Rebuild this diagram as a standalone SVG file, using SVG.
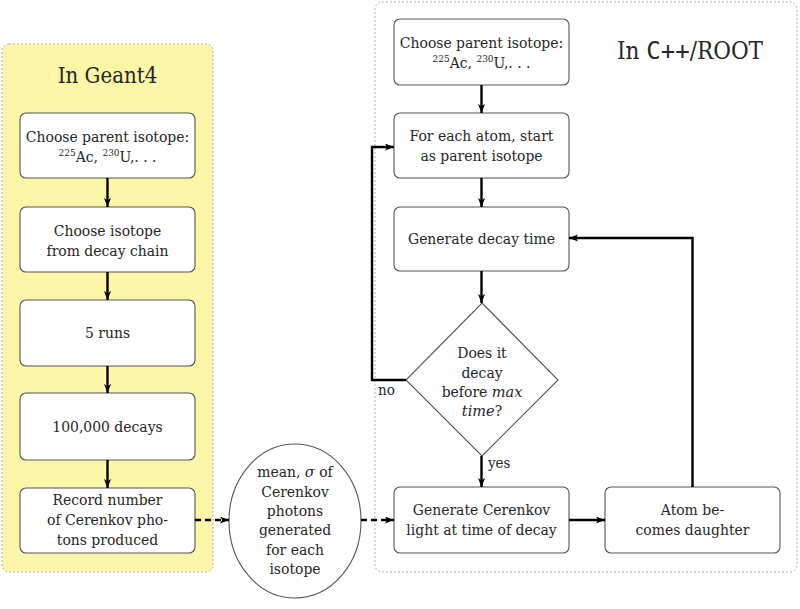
<svg xmlns="http://www.w3.org/2000/svg" width="800" height="609" viewBox="0 0 800 609">
<defs>
<marker id="ah" markerUnits="userSpaceOnUse" markerWidth="11" markerHeight="9" refX="9" refY="3.5" orient="auto">
<path d="M0,0 L9,3.5 L0,7 L2.2,3.5 Z" fill="#000"/>
</marker>
<style>
text{font-family:"DejaVu Serif Condensed","DejaVu Serif",serif;font-stretch:condensed;font-size:15.5px;fill:#262626;text-anchor:middle}
.title{font-size:22px}
.title2{font-size:24px}
.mono{font-family:"DejaVu Sans Mono",monospace;font-stretch:normal}
.sup{font-size:10px}
.it{font-family:"DejaVu Serif",serif;font-stretch:normal;font-style:italic;font-size:14.5px}
.box{fill:#fff;stroke:#555;stroke-width:1.1}
.panel-l{fill:#fdf5a7;stroke:#999;stroke-width:1;stroke-dasharray:1.5,2.5}
.panel-r{fill:#fff;stroke:#999;stroke-width:1;stroke-dasharray:1.5,2.5}
.conn{fill:none;stroke:#000;stroke-width:2.4;marker-end:url(#ah)}
.dash{stroke-dasharray:6,4}
.lbl{text-anchor:start;font-size:15px}
</style>
</defs>
<g id="panel-geant4">
<rect class="panel-l" x="2" y="44" width="211" height="528" rx="7"/>
<text class="title" x="107.5" y="83">In Geant4</text>
</g>
<g id="panel-root">
<rect class="panel-r" x="375" y="2" width="422" height="570" rx="7"/>
<text class="title2" x="690" y="59">In <tspan class="mono">C++</tspan>/ROOT</text>
</g>

<g id="g4-parent">
<rect class="box" x="20" y="113" width="175" height="65" rx="6"/>
<text x="107.5" y="142">Choose parent isotope:</text>
<text x="107.5" y="162"><tspan class="sup" dy="-6">225</tspan><tspan dy="6">Ac, </tspan><tspan class="sup" dy="-6">230</tspan><tspan dy="6">U,. . .</tspan></text>
</g>
<g id="g4-chain">
<rect class="box" x="20" y="207" width="175" height="65" rx="6"/>
<text x="107.5" y="236">Choose isotope</text>
<text x="107.5" y="256">from decay chain</text>
</g>
<g id="g4-runs">
<rect class="box" x="20" y="300" width="175" height="66" rx="6"/>
<text x="107.5" y="338">5 runs</text>
</g>
<g id="g4-decays">
<rect class="box" x="20" y="393" width="175" height="67" rx="6"/>
<text x="107.5" y="432">100,000 decays</text>
</g>
<g id="g4-record">
<rect class="box" x="20" y="488" width="175" height="65" rx="6"/>
<text x="107.5" y="505">Record number</text>
<text x="107.5" y="525">of Cerenkov pho-</text>
<text x="107.5" y="545">tons produced</text>
</g>

<g id="stats">
<ellipse class="box" cx="295" cy="521" rx="66" ry="77"/>
<text x="295" y="477">mean, <tspan class="it">σ</tspan> of</text>
<text x="295" y="497">Cerenkov</text>
<text x="295" y="516">photons</text>
<text x="295" y="535">generated</text>
<text x="295" y="555">for each</text>
<text x="295" y="574">isotope</text>
</g>

<g id="root-parent">
<rect class="box" x="394" y="19" width="175" height="66" rx="6"/>
<text x="481.5" y="48">Choose parent isotope:</text>
<text x="481.5" y="68"><tspan class="sup" dy="-6">225</tspan><tspan dy="6">Ac, </tspan><tspan class="sup" dy="-6">230</tspan><tspan dy="6">U,. . .</tspan></text>
</g>
<g id="root-atom">
<rect class="box" x="394" y="113" width="175" height="65" rx="6"/>
<text x="481.5" y="141">For each atom, start</text>
<text x="481.5" y="161">as parent isotope</text>
</g>
<g id="root-time">
<rect class="box" x="394" y="207" width="175" height="64" rx="6"/>
<text x="481.5" y="244">Generate decay time</text>
</g>
<g id="root-decision">
<polygon class="box" points="482,303 558,380 482,456 406,380"/>
<text x="482" y="358">Does it</text>
<text x="482" y="378">decay</text>
<text x="482" y="397">before <tspan class="it">max</tspan></text>
<text x="482" y="416"><tspan class="it">time</tspan>?</text>
</g>
<g id="root-light">
<rect class="box" x="394" y="487" width="175" height="66" rx="6"/>
<text x="481.5" y="515">Generate Cerenkov</text>
<text x="481.5" y="535">light at time of decay</text>
</g>
<g id="root-daughter">
<rect class="box" x="605" y="487" width="175" height="66" rx="6"/>
<text x="692.5" y="515">Atom be-</text>
<text x="692.5" y="535">comes daughter</text>
</g>

<g id="connectors">
<line class="conn" x1="107.5" y1="178" x2="107.5" y2="207"/>
<line class="conn" x1="107.5" y1="272" x2="107.5" y2="300"/>
<line class="conn" x1="107.5" y1="366" x2="107.5" y2="393"/>
<line class="conn" x1="107.5" y1="460" x2="107.5" y2="488"/>
<line class="conn dash" x1="195" y1="520" x2="229" y2="520"/>
<line class="conn dash" x1="361" y1="520" x2="394" y2="520"/>
<line class="conn" x1="481.5" y1="85" x2="481.5" y2="113"/>
<line class="conn" x1="481.5" y1="178" x2="481.5" y2="207"/>
<line class="conn" x1="481.5" y1="271" x2="481.5" y2="303"/>
<line class="conn" x1="481.5" y1="456" x2="481.5" y2="487"/>
<line class="conn" x1="569" y1="520" x2="605" y2="520"/>
<polyline class="conn" points="692.5,487 692.5,238 569,238"/>
<polyline class="conn" points="406,380 372,380 372,147 394,147"/>
<text class="lbl" x="378" y="395">no</text>
<text class="lbl" x="488" y="468">yes</text>
</g>
</svg>
